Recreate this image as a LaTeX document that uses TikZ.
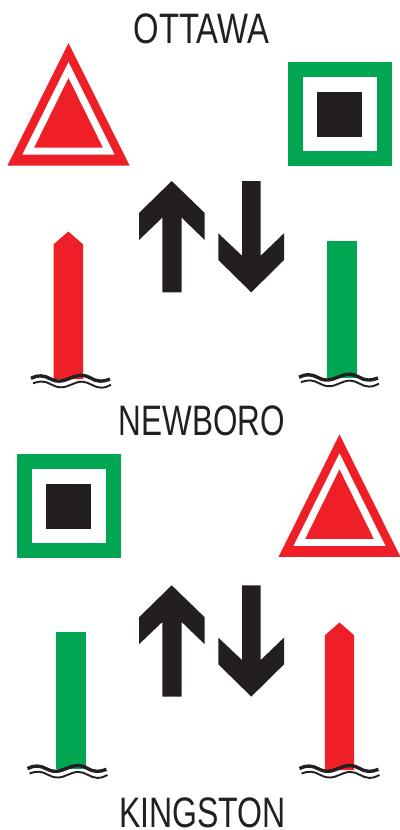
\documentclass[tikz,border=0pt]{standalone}
\usepackage{fontspec}
\setmainfont[FakeStretch=0.73]{Liberation Sans}
\definecolor{mred}{HTML}{EE1F26}
\definecolor{mgreen}{HTML}{00A651}
\definecolor{mblack}{HTML}{231F20}
\tikzset{
  label text/.style={inner sep=0pt,anchor=base,text=mblack,font=\fontsize{42.6}{44}\selectfont,transform shape},
  pics/hazard/.style={code={
    \fill[mred] (0,0) -- (61,122.5) -- (-61,122.5) -- cycle;
    \fill[white] (0,19) -- (46,111.5) -- (-46,111.5) -- cycle;
    \fill[mred] (0,35) -- (34.3,104.5) -- (-34.3,104.5) -- cycle;
  }},
  pics/daymark/.style={code={
    \fill[mgreen] (0,0) rectangle (104,103.7);
    \fill[white] (15,15) rectangle (89,89);
    \fill[mblack] (29,30) rectangle (74,75);
  }},
  pics/updown/.style={code={
    \fill[mblack] (32.7,0) -- (65.7,32) -- (65.7,59) -- (42.7,36.7) -- (42.7,111.3) -- (23.3,111.3) -- (23.3,36.7) -- (0,59) -- (0,32) -- cycle;
    \fill[mblack] (103,0) -- (121.7,0) -- (121.7,74.7) -- (145,52.3) -- (145,79) -- (112.3,111.3) -- (79.3,79) -- (79.3,52.3) -- (103,74.7) -- cycle;
  }},
  pics/redpost/.style={code={
    \fill[mred] (-14.7,12.8) -- (0,0) -- (14.7,12.8) -- (14.7,147.5) -- (-14.7,147.5) -- cycle;
  }},
  pics/greenpost/.style={code={
    \fill[mgreen] (0,0) rectangle (30,137);
  }},
  pics/waves/.style={code={
    \draw[mblack,line width=3.4pt]
      (0,0) .. controls (3,-1.6) and (6,-2.4) .. (10,-2.4)
      .. controls (17,-2.4) and (20,2.8) .. (28,2.8)
      .. controls (36,2.8) and (42,-3) .. (51,-3)
      .. controls (58,-3) and (62,2.8) .. (69,2.8)
      .. controls (73,2.8) and (76,2) .. (79,0.8);
    \draw[mblack,line width=1.9pt]
      (2,5) .. controls (5,3.8) and (8,3.2) .. (11,3.2)
      .. controls (18,3.2) and (22,9) .. (30,9)
      .. controls (38,9) and (43,3.4) .. (51,3.4)
      .. controls (58,3.4) and (63,9.4) .. (70,9.4)
      .. controls (74,9.4) and (77,8) .. (80,6.5);
  }}
}
\begin{document}
\begin{tikzpicture}[x=1pt,y=-1pt]
\useasboundingbox (0,0) rectangle (399,830);
\node[label text,xscale=1.055] (ottawa) at (201.5,43.8) {OTTAWA};
\node[label text,xscale=1.012] (newboro) at (202,435.7) {NEWBORO};
\node[label text,xscale=1.03] (kingston) at (202.5,827.6) {KINGSTON};
\pic at (68.5,43) {hazard};
\pic at (339.5,434.4) {hazard};
\pic at (288,62) {daymark};
\pic at (17,454) {daymark};
\pic at (139,181) {updown};
\pic at (139,585.3) {updown};
\pic at (68.3,231.5) {redpost};
\pic at (339.5,622.5) {redpost};
\pic at (327,241) {greenpost};
\pic at (56,632) {greenpost};
\pic at (31,378.3) {waves};
\pic at (299,377.2) {waves};
\pic at (27.5,768.5) {waves};
\pic at (299.5,768.5) {waves};
\end{tikzpicture}
\end{document}
